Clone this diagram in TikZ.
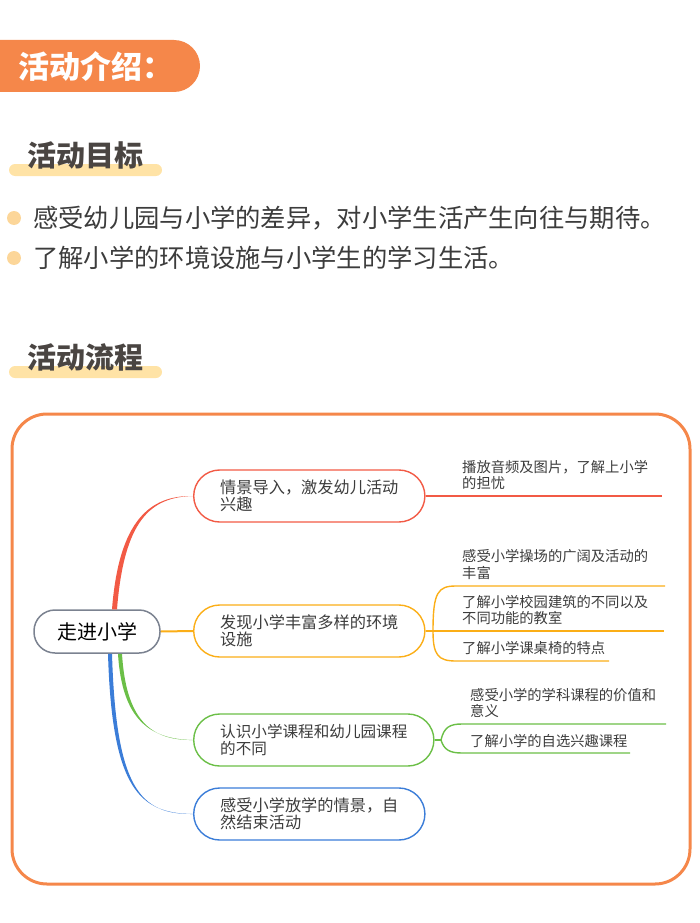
\documentclass[tikz,border=0pt]{standalone}
\usepackage{fontspec}
\setmainfont{Noto Sans CJK SC}
\definecolor{bannerC}{HTML}{F5874A}
\definecolor{barC}{HTML}{FFE3A6}
\definecolor{titleC}{HTML}{4A4542}
\definecolor{bodyC}{HTML}{3C3C3C}
\definecolor{dotC}{HTML}{FCD699}
\definecolor{rootC}{HTML}{7B8290}
\definecolor{redC}{HTML}{F25A45}
\definecolor{orgC}{HTML}{FBAE17}
\definecolor{grnC}{HTML}{6BBF47}
\definecolor{bluC}{HTML}{3B7DD8}
\tikzset{
  pill/.style={draw, line width=1.4, rounded corners=26, minimum height=52, inner xsep=26.5, inner ysep=0, align=left, anchor=west, text=bodyC, font=\fontsize{16.2}{17.5}\selectfont},
  subtxt/.style={inner sep=0, align=left, anchor=west, text=bodyC, font=\fontsize{14.3}{16.5}\selectfont},
  hbar/.style={fill=barC, rounded corners=6},
  htitle/.style={inner sep=0, anchor=west, text=titleC, font=\fontsize{29}{32}\selectfont\bfseries},
  btxt/.style={inner sep=0, anchor=west, text=bodyC, font=\fontsize{25.3}{28}\selectfont},
  dot/.style={fill=dotC, draw=none},
  subline/.style={line width=1.4}
}
\begin{document}
\begin{tikzpicture}[x=1pt,y=-1pt]
\path[use as bounding box] (0,0) rectangle (700,923);
% banner
\fill[bannerC, rounded corners=26] (-40,40) rectangle (200,92);
\node[inner sep=0, anchor=west, text=white, font=\fontsize{31}{34}\selectfont\bfseries] (ban) at (18,66) {活动介绍：};
% section 1
\fill[hbar] (9,164) rectangle (162,176);
\node[htitle] (t1) at (27,155.5) {活动目标};
\fill[dot] (14,218) circle (7);
\fill[dot] (14,258) circle (7);
\node[btxt] (p1) at (33,218) {感受幼儿园与小学的差异，对小学生活产生向往与期待。};
\node[btxt] (p2) at (33,258) {了解小学的环境设施与小学生的学习生活。};
% section 2
\fill[hbar] (9,366) rectangle (162,378);
\node[htitle] (t2) at (27,357) {活动流程};
% frame
\draw[bannerC, line width=3, rounded corners=35] (12,414) rectangle (690,884);
% root
\node[draw=rootC, line width=1.5, rounded corners=21, minimum width=126, minimum height=43, inner sep=0, text=black, font=\fontsize{20}{22}\selectfont] (root) at (97,631.5) {走进小学};
% branches
\node[pill, draw=redC] (b1) at (193,496) {情景导入，激发幼儿活动\\兴趣};
\node[pill, draw=orgC] (b2) at (193,631) {发现小学丰富多样的环境\\设施};
\node[pill, draw=grnC, font=\fontsize{15.6}{17.5}\selectfont] (b3) at (193,740) {认识小学课程和幼儿园课程\\的不同};
\node[pill, draw=bluC] (b4) at (193,814) {感受小学放学的情景，自\\然结束活动};
% main connectors (tapered)
\fill[redC] ([xshift=15]root.north) .. controls (119,520) and (150,495.3) .. (b1.west)
   .. controls (150,496.9) and (124,521) .. ([xshift=20]root.north) -- cycle;
\draw[orgC, line width=2] (root.east) -- (b2.west);
\fill[grnC] ([xshift=21]root.south) .. controls (122,720) and (150,739.3) .. (b3.west)
   .. controls (150,740.7) and (126,719) .. ([xshift=25]root.south) -- cycle;
\fill[bluC] ([xshift=11]root.south) .. controls (112,790) and (140,813.3) .. (b4.west)
   .. controls (140,814.7) and (116,788) .. ([xshift=15]root.south) -- cycle;
% red sub
\coordinate (r1) at (662,496);
\draw[redC, subline] (b1.east) -- (r1);
\node[subtxt] (s1) at (462,475) {播放音频及图片，了解上小学\\的担忧};
% orange subs
\coordinate (o0) at (433,631);
\coordinate (o1) at (665,586);
\coordinate (o2) at (664,631);
\coordinate (o3) at (609,661);
\draw[orgC, subline] (b2.east) -- (o2);
\draw[orgC, subline] (o0) .. controls (433,592) and (438,586) .. (456,586) -- (o1);
\draw[orgC, subline] (o0) .. controls (433,655) and (438,661) .. (456,661) -- (o3);
\node[subtxt] (s2) at (462,564.5) {感受小学操场的广阔及活动的\\丰富};
\node[subtxt] (s3) at (462,610) {了解小学校园建筑的不同以及\\不同功能的教室};
\node[subtxt] (s4) at (462,648) {了解小学课桌椅的特点};
% green subs
\coordinate (g0) at (441,740);
\coordinate (g1) at (666,724);
\coordinate (g2) at (630,753);
\draw[grnC, subline] (b3.east) -- (g0);
\draw[grnC, subline] (g0) .. controls (444,727) and (450,724) .. (462,724) -- (g1);
\draw[grnC, subline] (g0) .. controls (444,750) and (450,753) .. (462,753) -- (g2);
\node[subtxt] (s5) at (470,703) {感受小学的学科课程的价值和\\意义};
\node[subtxt] (s6) at (470,741) {了解小学的自选兴趣课程};
\end{tikzpicture}
\end{document}
